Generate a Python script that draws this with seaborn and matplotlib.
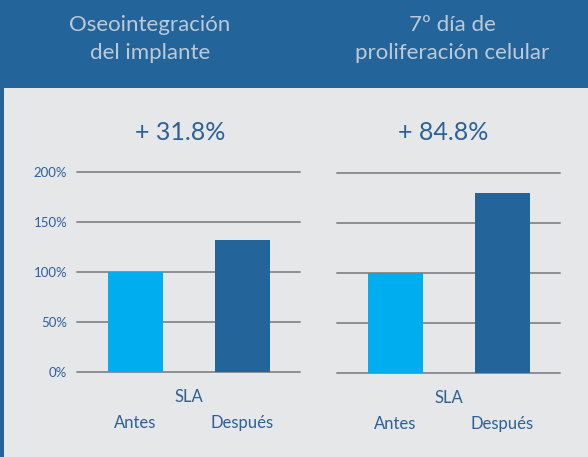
import numpy as np
import pandas as pd
import seaborn as sns
from matplotlib import pyplot as plt
from matplotlib.patches import Rectangle

# datos
categorias = ['Antes', 'Después']
oseo_valores = [100, 131.8]
prolif_valores = [100, 180]
titulos = ['Oseointegración\ndel implante', '7º día de\nproliferación celular']
incrementos = ['+ 31.8%', '+ 84.8%']
yticks = [0, 50, 100, 150, 200]
ytick_labels = ['0%', '50%', '100%', '150%', '200%']

azul = '#23649a'
cian = '#00aeef'
texto = '#2c6097'
fondo = '#e6e7e9'
grid = '#8c8e91'

sns.set_style('white')
fam = ['Lato', 'DejaVu Sans']
plt.rcParams['font.family'] = fam

W, H = 588, 457
fig = plt.figure(figsize=(W / 100, H / 100), dpi=100)
fig.patch.set_facecolor(azul)
fig.patches.append(Rectangle((4 / W, 0), 1, 1 - 88 / H, transform=fig.transFigure,
                             facecolor=fondo, edgecolor='none', zorder=-5))

def px_box(x0, x1, y_top, y_bot):
    return [x0 / W, 1 - y_bot / H, (x1 - x0) / W, (y_bot - y_top) / H]

paneles = [
    (oseo_valores, px_box(77, 300, 172.3, 371.7), 150, 180, True),
    (prolif_valores, px_box(337, 560, 173.3, 373), 452, 443, False),
]

for i, (vals, box, xc, xinc, show_y) in enumerate(paneles):
    ax = fig.add_axes(box)
    ax.set_facecolor('none')
    df = pd.DataFrame({'cat': categorias, 'val': vals})
    sns.barplot(x='cat', y='val', hue='cat', data=df, palette=[cian, azul],
                width=0.514, legend=False, ax=ax, zorder=3, saturation=1, linewidth=0)
    ax.set_xlim(-0.547, 1.537)
    ax.set_ylim(0, 200)
    ax.set_yticks(yticks)
    ax.yaxis.grid(True, color=grid, linewidth=1.4)
    for gl in ax.get_ygridlines():
        gl.set_clip_on(False)
    ax.set_axisbelow(True)
    sns.despine(ax=ax, left=True, bottom=True)
    if show_y:
        ax.set_yticklabels(ytick_labels)
    else:
        ax.set_yticklabels([])
    ax.tick_params(axis='y', length=0, pad=7, labelsize=9.5, labelcolor=texto)
    ax.tick_params(axis='x', length=0, pad=31, labelsize=12, labelcolor=texto)
    ax.set_xlabel('')
    ax.set_ylabel('')
    ax.text(0.5, -25 / 199.4, 'SLA', transform=ax.transAxes, ha='center', va='center',
            fontsize=12, color=texto)
    fig.text(xinc / W, 1 - 133 / H, incrementos[i], ha='center', va='center',
             fontsize=18, color=texto)
    fig.text(xc / W, 1 - 39 / H, titulos[i], ha='center', va='center', fontsize=16,
             color='#bccad8', linespacing=1.45)

fig.savefig('out.png', dpi=100, facecolor=fig.get_facecolor())
